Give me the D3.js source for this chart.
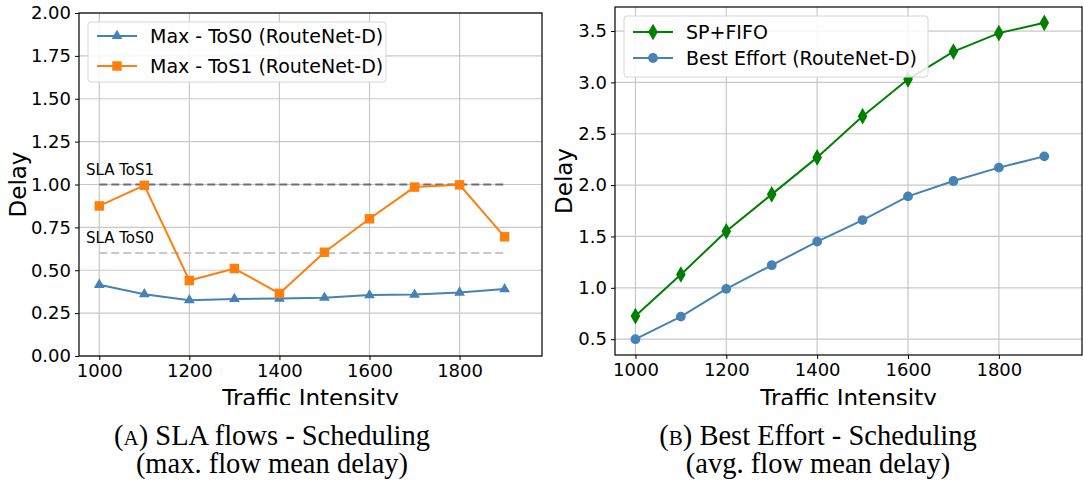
<!DOCTYPE html>
<html>
<head>
<meta charset="utf-8">
<script src="https://cdn.jsdelivr.net/npm/d3@7"></script>
<style>
  body { margin: 0; background: #fff; }
  svg { display: block; }
</style>
</head>
<body>
<svg id="chart" width="1083" height="483"></svg>
<script>
// data
var intensity = [1000, 1100, 1200, 1300, 1400, 1500, 1600, 1700, 1800, 1900];
var tos0Max = [0.415, 0.36, 0.325, 0.333, 0.335, 0.34, 0.355, 0.358, 0.37, 0.39];
var tos1Max = [0.875, 0.995, 0.44, 0.51, 0.365, 0.605, 0.80, 0.985, 0.998, 0.695];
var spFifo = [0.725, 1.13, 1.55, 1.91, 2.27, 2.67, 3.03, 3.30, 3.48, 3.58];
var bestEffort = [0.50, 0.72, 0.99, 1.22, 1.45, 1.66, 1.89, 2.04, 2.17, 2.28];
var slaLevels = [1.0, 0.6];
var slaLabels = ["SLA ToS1", "SLA ToS0"];
var xTicks = [1000, 1200, 1400, 1600, 1800];
var leftYTicks = [0, 0.25, 0.5, 0.75, 1.0, 1.25, 1.5, 1.75, 2.0];
var rightYTicks = [0.5, 1.0, 1.5, 2.0, 2.5, 3.0, 3.5];
var captionsA = ["SLA flows - Scheduling", "(max. flow mean delay)"];
var captionsB = ["Best Effort - Scheduling", "(avg. flow mean delay)"];

var sans = "DejaVu Sans, sans-serif";
var serif = "Liberation Serif, DejaVu Serif, serif";
var svg = d3.select("#chart");

svg.append("defs").append("clipPath").attr("id", "cut")
  .append("rect").attr("x", 0).attr("y", 0).attr("width", 1083).attr("height", 405);

function drawPanel(p) {
  var x = d3.scaleLinear().domain([955, 1983]).range([p.left, p.right]);
  var y = d3.scaleLinear().domain(p.yDomain).range([p.bottom, p.top]);
  var g = svg.append("g");

  // grid
  g.selectAll(".vgrid").data(xTicks).enter().append("line")
    .attr("x1", function(d){ return x(d); }).attr("x2", function(d){ return x(d); })
    .attr("y1", p.top).attr("y2", p.bottom)
    .attr("stroke", "#c8c8c8").attr("stroke-width", 1.2);
  g.selectAll(".hgrid").data(p.yTicks).enter().append("line")
    .attr("x1", p.left).attr("x2", p.right)
    .attr("y1", function(d){ return y(d); }).attr("y2", function(d){ return y(d); })
    .attr("stroke", "#c8c8c8").attr("stroke-width", 1.2);

  // axes
  var xAxis = g.append("g").attr("transform", "translate(0," + p.bottom + ")")
    .call(d3.axisBottom(x).tickValues(xTicks).tickSize(4).tickPadding(4).tickFormat(d3.format("d")));
  var yAxis = g.append("g").attr("transform", "translate(" + p.left + ",0)")
    .call(d3.axisLeft(y).tickValues(p.yTicks).tickSize(4).tickPadding(4).tickFormat(d3.format(p.fmt)));
  [xAxis, yAxis].forEach(function(a){
    a.select(".domain").remove();
    a.attr("font-family", sans).attr("font-size", 18);
    a.selectAll("line").attr("stroke", "#000");
    a.selectAll("text").attr("fill", "#000");
  });

  // SLA reference lines
  if (p.sla) {
    slaLevels.forEach(function(v, i){
      g.append("line")
        .attr("x1", x(intensity[0])).attr("x2", x(intensity[intensity.length - 1]))
        .attr("y1", y(v)).attr("y2", y(v))
        .attr("stroke", i == 0 ? "#6e6e6e" : "#c8c8c8").attr("stroke-width", 2)
        .attr("stroke-dasharray", "8,4");
      g.append("text").attr("x", p.left + 7).attr("y", y(v) - 10)
        .attr("font-family", sans).attr("font-size", 15).attr("fill", "#000").text(slaLabels[i]);
    });
  }

  // series
  p.series.forEach(function(s){
    var pts = intensity.map(function(d, i){ return [x(d), y(s.values[i])]; });
    g.append("path").attr("d", d3.line()(pts))
      .attr("fill", "none").attr("stroke", s.color).attr("stroke-width", 2);
    g.selectAll(null).data(pts).enter().append("path")
      .attr("d", d3.symbol().type(s.symbol).size(s.size))
      .attr("transform", function(d){ return "translate(" + d[0] + "," + d[1] + ")"; })
      .attr("fill", s.color);
  });

  // frame
  g.append("rect").attr("x", p.left).attr("y", p.top)
    .attr("width", p.right - p.left).attr("height", p.bottom - p.top)
    .attr("fill", "none").attr("stroke", "#000").attr("stroke-width", 1.2);

  // legend
  var lg = p.legend;
  g.append("rect").attr("x", lg.x).attr("y", lg.y).attr("width", lg.w).attr("height", lg.h)
    .attr("rx", 3).attr("fill", "#fff").attr("fill-opacity", 0.85)
    .attr("stroke", "#d6d6d6").attr("stroke-width", 1);
  p.series.forEach(function(s, i){
    var ry = lg.rows[i];
    g.append("line").attr("x1", lg.x + 9).attr("x2", lg.x + 49).attr("y1", ry).attr("y2", ry)
      .attr("stroke", s.color).attr("stroke-width", 2);
    g.append("path").attr("d", d3.symbol().type(s.symbol).size(s.size))
      .attr("transform", "translate(" + (lg.x + 29) + "," + ry + ")").attr("fill", s.color);
    g.append("text").attr("x", lg.x + 62).attr("y", ry + 7)
      .attr("font-family", sans).attr("font-size", 19).attr("fill", "#000").text(s.name);
  });

  // axis labels
  g.append("text").attr("transform", "translate(" + p.ylabelX + "," + ((p.top + p.bottom) / 2) + ") rotate(-90)")
    .attr("text-anchor", "middle").attr("font-family", sans).attr("font-size", 23).text("Delay");
  g.append("text").attr("clip-path", "url(#cut)")
    .attr("x", (p.left + p.right) / 2).attr("y", 406)
    .attr("text-anchor", "middle").attr("font-family", sans).attr("font-size", 23).text("Traffic Intensity");

  // caption
  var cx = p.captionX;
  var c1 = g.append("text").attr("x", cx).attr("y", 445).attr("text-anchor", "middle")
    .attr("font-family", serif).attr("font-size", 28.5).attr("fill", "#000");
  c1.append("tspan").text("(");
  c1.append("tspan").attr("font-size", 21).text(p.letter);
  c1.append("tspan").text(") " + p.captions[0]);
  g.append("text").attr("x", cx).attr("y", 473).attr("text-anchor", "middle")
    .attr("font-family", serif).attr("font-size", 28.5).attr("fill", "#000")
    .text(p.captions[1]);
}

drawPanel({
  left: 79, right: 542, top: 13, bottom: 356,
  yDomain: [0, 2], yTicks: leftYTicks, fmt: ".2f", sla: true,
  series: [
    { name: "Max - ToS0 (RouteNet-D)", values: tos0Max, color: "#4682b4", symbol: d3.symbolTriangle, size: 50 },
    { name: "Max - ToS1 (RouteNet-D)", values: tos1Max, color: "#ff7f0e", symbol: d3.symbolSquare, size: 90 }
  ],
  legend: { x: 88, y: 22, w: 298, h: 60, rows: [36, 66] },
  ylabelX: 26, captionX: 272, letter: "A", captions: captionsA
});

drawPanel({
  left: 615, right: 1082, top: 7, bottom: 355,
  yDomain: [0.346, 3.734], yTicks: rightYTicks, fmt: ".1f", sla: false,
  series: [
    { name: "SP+FIFO", values: spFifo, color: "#008000", symbol: d3.symbolDiamond, size: 80 },
    { name: "Best Effort (RouteNet-D)", values: bestEffort, color: "#4682b4", symbol: d3.symbolCircle, size: 75 }
  ],
  legend: { x: 624, y: 16, w: 304, h: 61, rows: [32, 58] },
  ylabelX: 572, captionX: 818, letter: "B", captions: captionsB
});
</script>
</body>
</html>
